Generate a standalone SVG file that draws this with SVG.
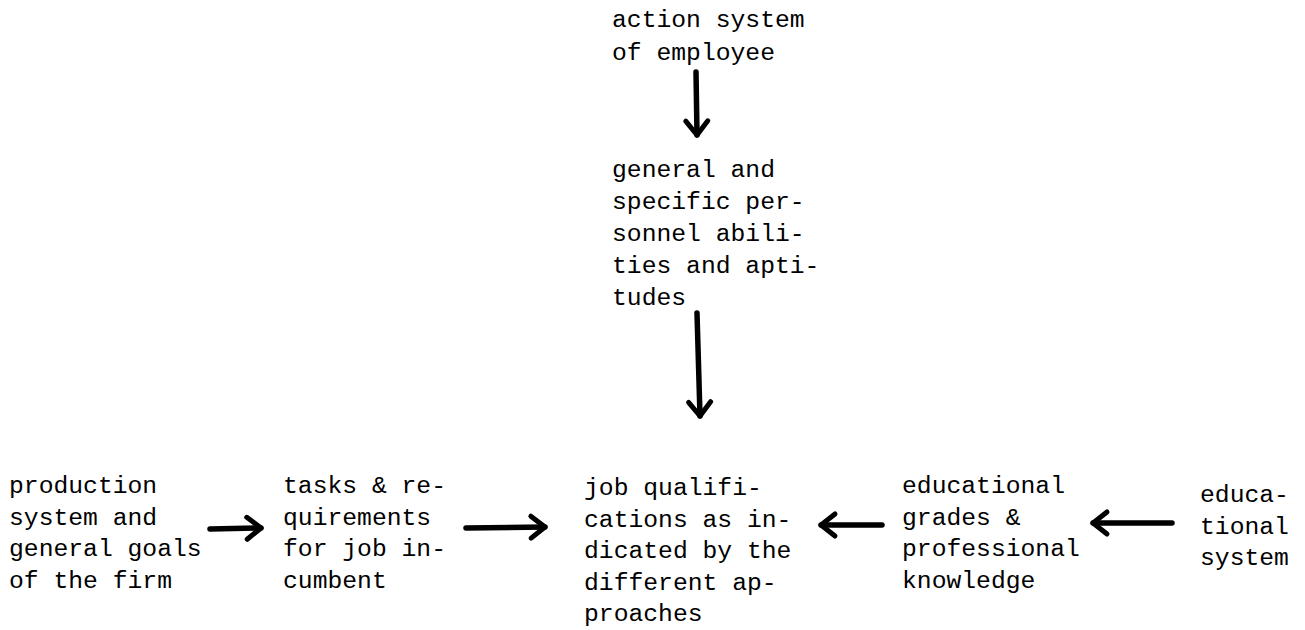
<svg xmlns="http://www.w3.org/2000/svg" width="1305" height="630" viewBox="0 0 1305 630">
<style>
text{font-family:"Liberation Mono","Courier New",monospace;font-size:24.7px;fill:#000}
.c line{stroke:#000;stroke-width:5.5;stroke-linecap:round}
</style>
<defs>
<marker id="ah" markerUnits="userSpaceOnUse" markerWidth="40" markerHeight="40" viewBox="-20 -20 40 40" refX="0" refY="0" orient="auto">
<path d="M-14,-11 L0,0 L-14,11" fill="none" stroke="#000" stroke-width="5" stroke-linecap="round" stroke-linejoin="round"/>
</marker>
</defs>
<rect width="1305" height="630" fill="#fff"/>
<g id="n-action">
<text x="612" y="27">action system</text>
<text x="612" y="60">of employee</text>
</g>
<g id="n-abilities">
<text x="612" y="177">general and</text>
<text x="612" y="209">specific per-</text>
<text x="612" y="241">sonnel abili-</text>
<text x="612" y="273">ties and apti-</text>
<text x="612" y="305">tudes</text>
</g>
<g id="n-production">
<text x="9" y="493">production</text>
<text x="9" y="525">system and</text>
<text x="9" y="556">general goals</text>
<text x="9" y="588">of the firm</text>
</g>
<g id="n-tasks">
<text x="283" y="493">tasks &amp; re-</text>
<text x="283" y="525">quirements</text>
<text x="283" y="556">for job in-</text>
<text x="283" y="588">cumbent</text>
</g>
<g id="n-job">
<text x="584" y="495">job qualifi-</text>
<text x="584" y="527">cations as in-</text>
<text x="584" y="558">dicated by the</text>
<text x="584" y="590">different ap-</text>
<text x="584" y="621">proaches</text>
</g>
<g id="n-grades">
<text x="902" y="493">educational</text>
<text x="902" y="525">grades &amp;</text>
<text x="902" y="556">professional</text>
<text x="902" y="588">knowledge</text>
</g>
<g id="n-edsystem">
<text x="1200" y="502">educa-</text>
<text x="1200" y="534">tional</text>
<text x="1200" y="565">system</text>
</g>
<g class="c" id="connectors">
<line x1="696" y1="72" x2="697" y2="135" marker-end="url(#ah)"/>
<line x1="697" y1="313" x2="700" y2="416" marker-end="url(#ah)"/>
<line x1="210" y1="529" x2="261" y2="528" marker-end="url(#ah)"/>
<line x1="466" y1="528" x2="545" y2="527" marker-end="url(#ah)"/>
<line x1="882" y1="525" x2="821" y2="525" marker-end="url(#ah)"/>
<line x1="1172" y1="523" x2="1093" y2="523" marker-end="url(#ah)"/>
</g>
</svg>
